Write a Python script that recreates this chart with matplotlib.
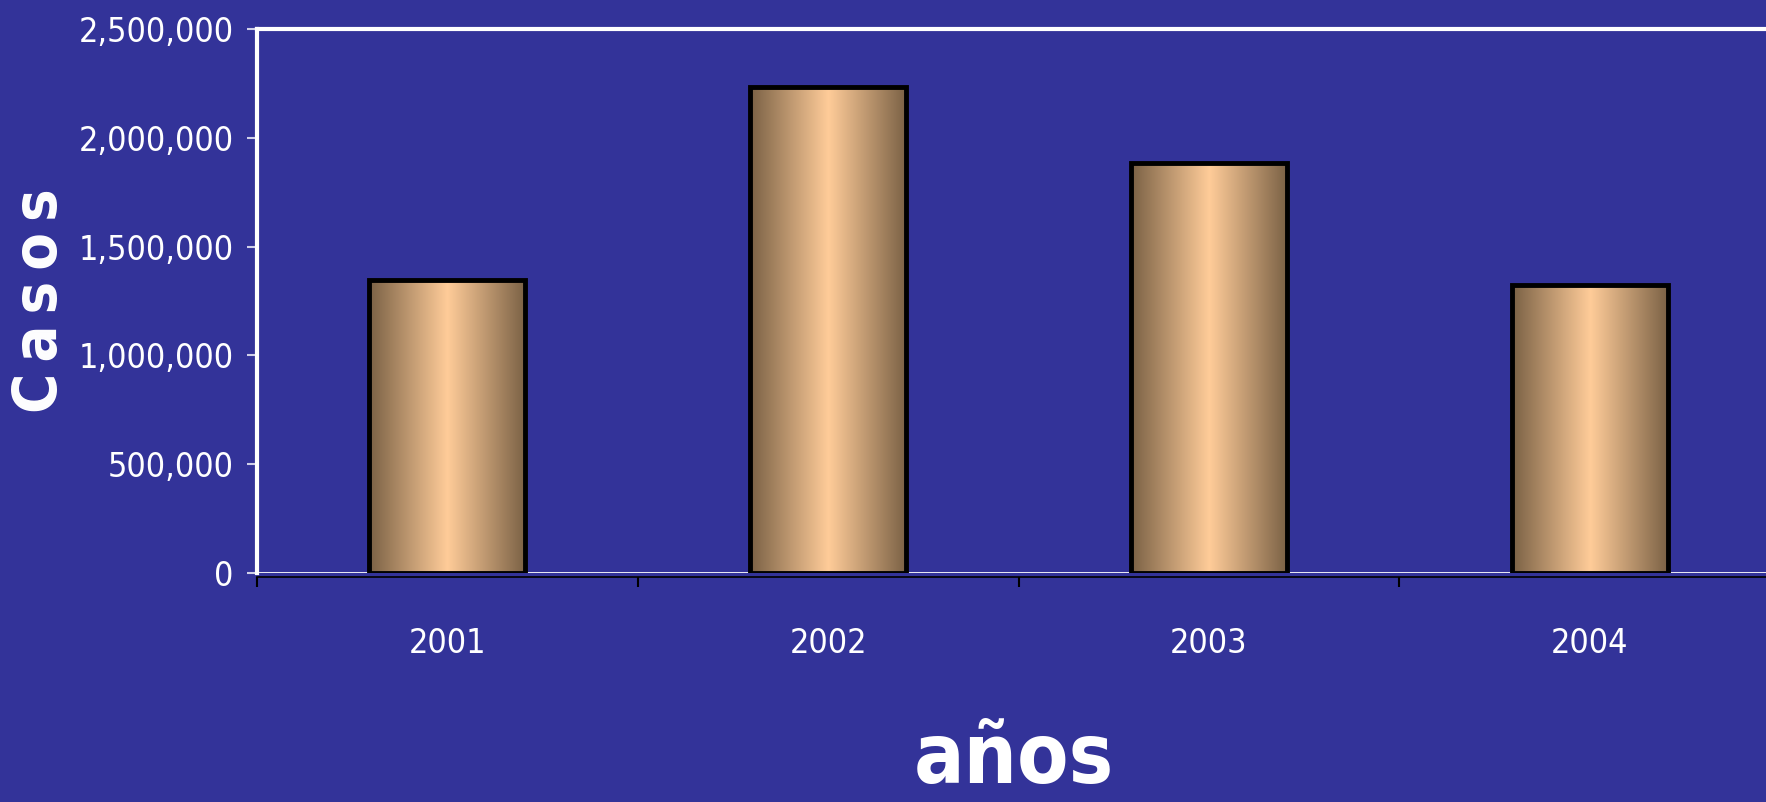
import numpy as np
import matplotlib.pyplot as plt
from matplotlib import font_manager
from matplotlib.colors import LinearSegmentedColormap
from matplotlib.ticker import FuncFormatter

# datos
years = ['2001', '2002', '2003', '2004']
casos = [1346000, 2233000, 1882000, 1323000]
y_ticks = [0, 500000, 1000000, 1500000, 2000000, 2500000]

bg = '#333399'

# fuente estrecha si existe (parecida a Arial Narrow)
narrow = None
for fam in ['Liberation Sans Narrow', 'DejaVu Sans']:
    try:
        path = font_manager.findfont(font_manager.FontProperties(family=fam, stretch='condensed'),
                                     fallback_to_default=False)
    except ValueError:
        continue
    if 'Narrow' in path or 'Condensed' in path:
        narrow = fam
        break
if narrow:
    plt.rcParams['font.family'] = [narrow, 'DejaVu Sans']
    plt.rcParams['font.stretch'] = 'condensed'
    tick_size = 24.5
else:
    plt.rcParams['font.family'] = ['Liberation Sans', 'DejaVu Sans']
    tick_size = 24

fig = plt.figure(figsize=(17.66, 8.02), dpi=100, facecolor=bg)
ax = fig.add_axes([257 / 1766, 229 / 802, 1523 / 1766, 544 / 802])
ax.set_facecolor(bg)

x = np.arange(len(years))
bars = ax.bar(x, casos, width=0.41, facecolor='none', edgecolor='black',
              linewidth=3.5, zorder=4)

# relleno degradado horizontal (oscuro - claro - oscuro)
cmap = LinearSegmentedColormap.from_list('peach', ['#7a6145', '#ffcc99', '#7a6145'])
grad = np.linspace(0, 1, 256).reshape(1, -1)
for b in bars:
    x0, w, h = b.get_x(), b.get_width(), b.get_height()
    im = ax.imshow(grad, cmap=cmap, aspect='auto', extent=[x0, x0 + w, 0, h], zorder=3)
    im.set_clip_path(b)

ax.set_xlim(-0.5, 3.5)
ax.set_ylim(0, 2500000)

# bordes
ax.spines['left'].set_color('white')
ax.spines['left'].set_linewidth(3)
ax.spines['top'].set_color('white')
ax.spines['top'].set_linewidth(3)
ax.spines['right'].set_visible(False)
ax.spines['bottom'].set_color('black')
ax.spines['bottom'].set_linewidth(1.2)
ax.spines['bottom'].set_position(('outward', 3))
ax.axhline(0, color='white', linewidth=2, zorder=2)

ax.set_yticks(y_ticks)
ax.yaxis.set_major_formatter(FuncFormatter(lambda v, p: f'{int(v):,}'))
ax.tick_params(axis='y', colors='#d0d0e8', length=7, width=1.5, pad=10,
               labelsize=tick_size, labelcolor='white')

ax.set_xticks(x)
ax.set_xticklabels(years)
ax.set_xticks(np.arange(len(years) + 1) - 0.5, minor=True)
ax.tick_params(axis='x', which='major', length=0, pad=36, labelsize=tick_size,
               labelcolor='white')
ax.tick_params(axis='x', which='minor', length=7, width=1.5, color='black')

fig.text(41 / 1766, 1 - 301 / 802, 'C\u2009a\u2009s\u2009o\u2009s', rotation=90,
         ha='center', va='center', color='white', fontsize=44, fontweight='bold')
fig.text(1014 / 1766, 2 / 802, 'años', ha='center', va='bottom',
         color='white', fontsize=60, fontweight='bold')

fig.savefig('out.png', dpi=100, facecolor=bg)
